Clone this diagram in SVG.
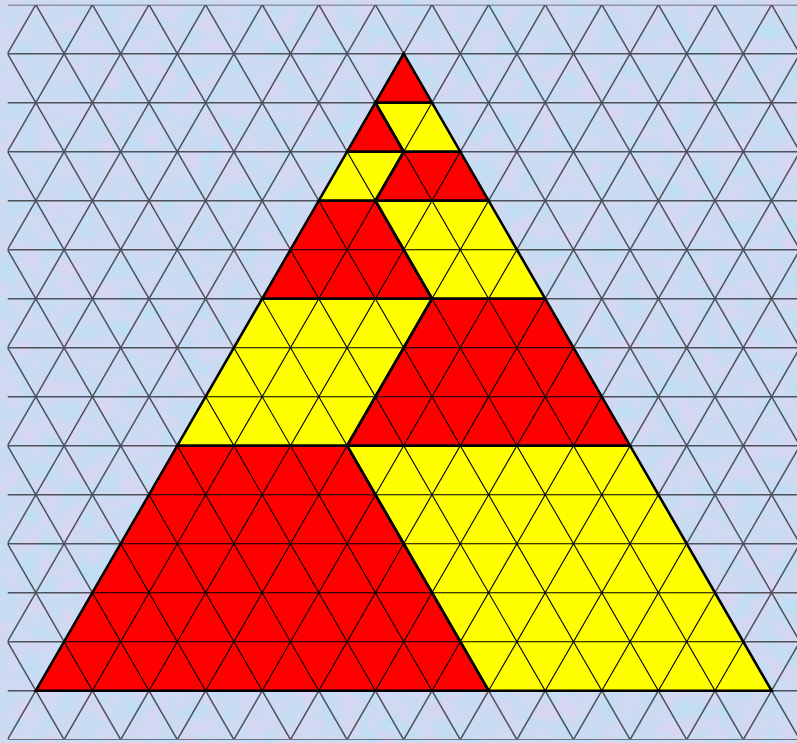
<svg xmlns="http://www.w3.org/2000/svg" xmlns:xlink="http://www.w3.org/1999/xlink" width="797" height="743" viewBox="0 0 797 743">
<style>
.red{fill:#ff0000}
.yel{fill:#ffff00}
.reg{stroke:#000;stroke-width:2.6;stroke-linejoin:miter}
</style>
<defs>
<filter id="tex" x="0" y="0" width="797" height="743" filterUnits="userSpaceOnUse" color-interpolation-filters="sRGB">
<feTurbulence type="fractalNoise" baseFrequency="0.05" numOctaves="3" seed="7"/>
<feColorMatrix type="matrix" values="0.18 0 0 0 0.71  -0.06 0 0 0 0.885  0 0 0 0 0.95  0 0 0 0 1"/>
</filter>
<clipPath id="gridclip"><rect x="7.5" y="4.7" width="790" height="735"/></clipPath>
<clipPath id="triclip"><polygon points="403.7,53.7 771.6,690.7 35.8,690.7"/></clipPath>
<path id="gridpath" d="M7.5,4.7H797M7.5,53.7H797M7.5,102.7H797M7.5,151.7H797M7.5,200.7H797M7.5,249.7H797M7.5,298.7H797M7.5,347.7H797M7.5,396.7H797M7.5,445.7H797M7.5,494.7H797M7.5,543.7H797M7.5,592.7H797M7.5,641.7H797M7.5,690.7H797M7.5,739.7H797
M-388.7,739.7L35.8,4.7M-332.1,739.7L92.4,4.7M-275.5,739.7L149,4.7M-218.9,739.7L205.6,4.7M-162.3,739.7L262.2,4.7M-105.7,739.7L318.8,4.7M-49.1,739.7L375.4,4.7M7.5,739.7L432,4.7M64.1,739.7L488.6,4.7M120.7,739.7L545.2,4.7M177.3,739.7L601.8,4.7M233.9,739.7L658.4,4.7M290.5,739.7L715,4.7M347.1,739.7L771.6,4.7M403.7,739.7L828.2,4.7M460.3,739.7L884.8,4.7M516.9,739.7L941.4,4.7M573.5,739.7L998,4.7M630.1,739.7L1054.6,4.7M686.7,739.7L1111.2,4.7M743.3,739.7L1167.8,4.7
M-360.4,4.7L64.1,739.7M-303.8,4.7L120.7,739.7M-247.2,4.7L177.3,739.7M-190.6,4.7L233.9,739.7M-134,4.7L290.5,739.7M-77.4,4.7L347.1,739.7M-20.8,4.7L403.7,739.7M35.8,4.7L460.3,739.7M92.4,4.7L516.9,739.7M149,4.7L573.5,739.7M205.6,4.7L630.1,739.7M262.2,4.7L686.7,739.7M318.8,4.7L743.3,739.7M375.4,4.7L799.9,739.7M432,4.7L856.5,739.7M488.6,4.7L913.1,739.7M545.2,4.7L969.7,739.7M601.8,4.7L1026.3,739.7M658.4,4.7L1082.9,739.7M715,4.7L1139.5,739.7M771.6,4.7L1196.1,739.7"/>
</defs>
<rect x="0" y="0" width="797" height="743" fill="#c8d8f0" filter="url(#tex)"/>
<g id="grid" clip-path="url(#gridclip)" fill="none" stroke="#2e2e36" stroke-width="1.5" stroke-opacity="0.8">
<use xlink:href="#gridpath"/>
</g>
<g id="regions">
<g id="r0"><polygon class="red" points="403.7,53.7 432,102.7 375.4,102.7"/></g>
<g id="r1a"><polygon class="red" points="375.4,102.7 403.7,151.7 347.1,151.7"/></g>
<g id="r1b"><polygon class="yel" points="375.4,102.7 432,102.7 460.3,151.7 403.7,151.7"/></g>
<g id="r2a"><polygon class="yel" points="347.1,151.7 403.7,151.7 375.4,200.7 318.8,200.7"/></g>
<g id="r2b"><polygon class="red" points="403.7,151.7 460.3,151.7 488.6,200.7 375.4,200.7"/></g>
<g id="r3a"><polygon class="red" points="318.8,200.7 375.4,200.7 432,298.7 262.2,298.7"/></g>
<g id="r3b"><polygon class="yel" points="375.4,200.7 488.6,200.7 545.2,298.7 432,298.7"/></g>
<g id="r5a"><polygon class="yel" points="262.2,298.7 432,298.7 347.1,445.7 177.3,445.7"/></g>
<g id="r5b"><polygon class="red" points="432,298.7 545.2,298.7 630.1,445.7 347.1,445.7"/></g>
<g id="r8a"><polygon class="red" points="177.3,445.7 347.1,445.7 488.6,690.7 35.8,690.7"/></g>
<g id="r8b"><polygon class="yel" points="347.1,445.7 630.1,445.7 771.6,690.7 488.6,690.7"/></g>
</g>
<g id="innergrid" clip-path="url(#triclip)" fill="none" stroke="#000" stroke-width="1.1">
<use xlink:href="#gridpath"/>
</g>
<g id="outlines" fill="none" class="reg">
<polygon points="403.7,53.7 432,102.7 375.4,102.7"/>
<polygon points="375.4,102.7 403.7,151.7 347.1,151.7"/>
<polygon points="375.4,102.7 432,102.7 460.3,151.7 403.7,151.7"/>
<polygon points="347.1,151.7 403.7,151.7 375.4,200.7 318.8,200.7"/>
<polygon points="403.7,151.7 460.3,151.7 488.6,200.7 375.4,200.7"/>
<polygon points="318.8,200.7 375.4,200.7 432,298.7 262.2,298.7"/>
<polygon points="375.4,200.7 488.6,200.7 545.2,298.7 432,298.7"/>
<polygon points="262.2,298.7 432,298.7 347.1,445.7 177.3,445.7"/>
<polygon points="432,298.7 545.2,298.7 630.1,445.7 347.1,445.7"/>
<polygon points="177.3,445.7 347.1,445.7 488.6,690.7 35.8,690.7"/>
<polygon points="347.1,445.7 630.1,445.7 771.6,690.7 488.6,690.7"/>
</g>
</svg>
